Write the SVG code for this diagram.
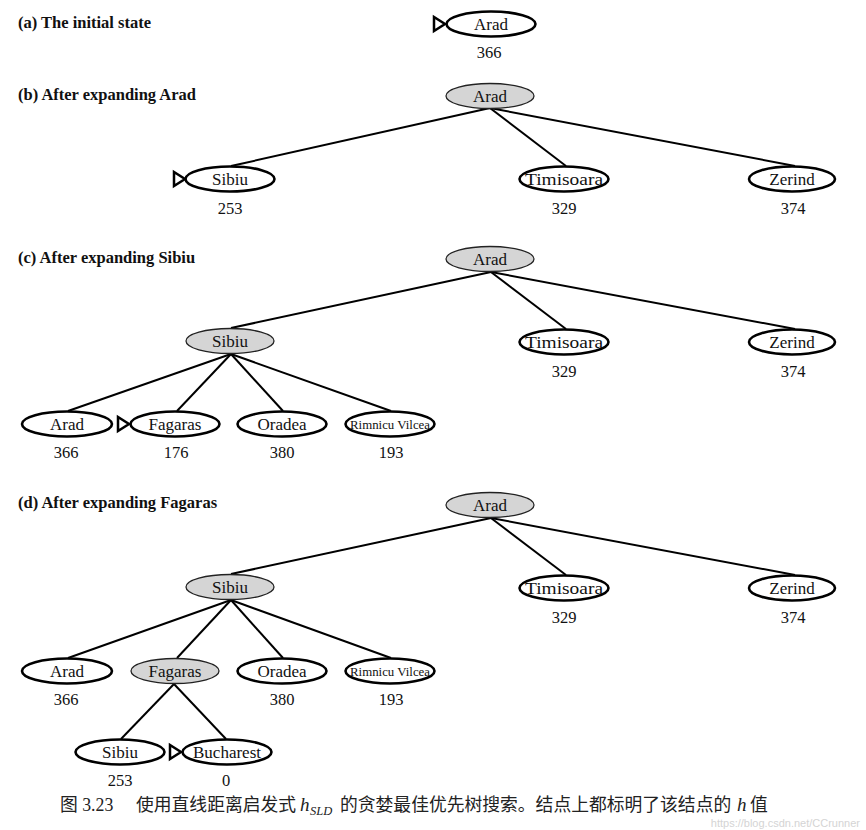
<svg xmlns="http://www.w3.org/2000/svg" width="866" height="830" viewBox="0 0 866 830">
<defs>
<style>
.bg{fill:#ffffff}
.title{font-family:"Liberation Serif","Times New Roman",serif;font-weight:bold;font-size:16.5px;fill:#111}
.n{fill:#ffffff;stroke:#000;stroke-width:2.6}
.g{fill:#d5d5d5;stroke:#222;stroke-width:1.3}
.t{font-family:"Liberation Serif","Times New Roman",serif;font-size:17px;fill:#111;text-anchor:middle}
.ts{font-family:"Liberation Serif","Times New Roman",serif;font-size:13.5px;fill:#111;text-anchor:middle}
.h{font-family:"Liberation Serif","Times New Roman",serif;font-size:16.5px;fill:#111;text-anchor:middle}
.tri{fill:#ffffff;stroke:#000;stroke-width:2.5;stroke-linejoin:miter}
.e{stroke:#000;stroke-width:2;fill:none}
.cap{font-family:"Liberation Serif","Noto Sans CJK SC",serif;font-size:17.8px;fill:#222}
.capi{font-family:"Liberation Serif","Times New Roman",serif;font-style:italic;fill:#222}
.wm{font-family:"Liberation Sans",Arial,sans-serif;font-size:11px;fill:#d4d4d4;text-anchor:end}
</style>
</defs>
<rect class="bg" x="0" y="0" width="866" height="830"/>

<g id="titles">
<text class="title" x="18" y="28">(a) The initial state</text>
<text class="title" x="18" y="100">(b) After expanding Arad</text>
<text class="title" x="18" y="263">(c) After expanding Sibiu</text>
<text class="title" x="18" y="508">(d) After expanding Fagaras</text>
</g>

<g id="connectors">
<line class="e" x1="490" y1="108" x2="231" y2="166"/>
<line class="e" x1="490" y1="108" x2="566" y2="166"/>
<line class="e" x1="490" y1="108" x2="795" y2="166"/>
<line class="e" x1="491" y1="272" x2="231" y2="328"/>
<line class="e" x1="491" y1="272" x2="566" y2="329"/>
<line class="e" x1="491" y1="272" x2="795" y2="329"/>
<line class="e" x1="231" y1="354" x2="68" y2="411"/>
<line class="e" x1="231" y1="354" x2="177" y2="411"/>
<line class="e" x1="231" y1="354" x2="283" y2="411"/>
<line class="e" x1="231" y1="354" x2="391" y2="411"/>
<line class="e" x1="491" y1="518" x2="231" y2="574"/>
<line class="e" x1="491" y1="518" x2="566" y2="575"/>
<line class="e" x1="491" y1="518" x2="795" y2="575"/>
<line class="e" x1="231" y1="600" x2="68" y2="658"/>
<line class="e" x1="231" y1="600" x2="177" y2="658"/>
<line class="e" x1="231" y1="600" x2="283" y2="658"/>
<line class="e" x1="231" y1="600" x2="391" y2="658"/>
<line class="e" x1="174" y1="684" x2="121" y2="739"/>
<line class="e" x1="174" y1="684" x2="226" y2="739"/>
</g>

<g id="a-arad">
<polygon class="tri" points="434,17 434,31 445,24"/>
<ellipse class="n" cx="491" cy="24" rx="44.5" ry="12.5"/>
<text class="t" x="491" y="30">Arad</text>
<text class="h" x="489" y="58">366</text>
</g>

<g id="b-arad">
<ellipse class="g" cx="490" cy="96" rx="44" ry="12.5"/>
<text class="t" x="490" y="102">Arad</text>
</g>
<g id="b-sibiu">
<polygon class="tri" points="174,172 174,186 185,179"/>
<ellipse class="n" cx="230" cy="179" rx="44.5" ry="12.5"/>
<text class="t" x="230" y="185">Sibiu</text>
<text class="h" x="230" y="214">253</text>
</g>
<g id="b-timisoara">
<ellipse class="n" cx="564" cy="179" rx="44.5" ry="12.5"/>
<text class="t" x="564" y="185" textLength="78" lengthAdjust="spacingAndGlyphs">Timisoara</text>
<text class="h" x="564" y="214">329</text>
</g>
<g id="b-zerind">
<ellipse class="n" cx="792" cy="179" rx="43" ry="12.5"/>
<text class="t" x="792" y="185">Zerind</text>
<text class="h" x="793" y="214">374</text>
</g>

<g id="c-arad">
<ellipse class="g" cx="490" cy="259" rx="44" ry="12.5"/>
<text class="t" x="490" y="265">Arad</text>
</g>
<g id="c-sibiu">
<ellipse class="g" cx="230" cy="341" rx="44" ry="12.5"/>
<text class="t" x="230" y="347">Sibiu</text>
</g>
<g id="c-timisoara">
<ellipse class="n" cx="564" cy="342" rx="44.5" ry="12.5"/>
<text class="t" x="564" y="348" textLength="78" lengthAdjust="spacingAndGlyphs">Timisoara</text>
<text class="h" x="564" y="377">329</text>
</g>
<g id="c-zerind">
<ellipse class="n" cx="792" cy="342" rx="43" ry="12.5"/>
<text class="t" x="792" y="348">Zerind</text>
<text class="h" x="793" y="377">374</text>
</g>
<g id="c-arad2">
<ellipse class="n" cx="67" cy="424" rx="45" ry="12.5"/>
<text class="t" x="67" y="430">Arad</text>
<text class="h" x="66" y="458">366</text>
</g>
<g id="c-fagaras">
<polygon class="tri" points="118,417 118,431 129,424"/>
<ellipse class="n" cx="175" cy="424" rx="44.5" ry="12.5"/>
<text class="t" x="175" y="430">Fagaras</text>
<text class="h" x="176" y="458">176</text>
</g>
<g id="c-oradea">
<ellipse class="n" cx="282" cy="424" rx="44.5" ry="12.5"/>
<text class="t" x="282" y="430">Oradea</text>
<text class="h" x="282" y="458">380</text>
</g>
<g id="c-rimnicu">
<ellipse class="n" cx="390" cy="424" rx="44.5" ry="12.5"/>
<text class="ts" x="390" y="429" textLength="80" lengthAdjust="spacingAndGlyphs">Rimnicu Vilcea</text>
<text class="h" x="391" y="458">193</text>
</g>

<g id="d-arad">
<ellipse class="g" cx="490" cy="505" rx="44" ry="12.5"/>
<text class="t" x="490" y="511">Arad</text>
</g>
<g id="d-sibiu">
<ellipse class="g" cx="230" cy="587" rx="44" ry="12.5"/>
<text class="t" x="230" y="593">Sibiu</text>
</g>
<g id="d-timisoara">
<ellipse class="n" cx="564" cy="588" rx="44.5" ry="12.5"/>
<text class="t" x="564" y="594" textLength="78" lengthAdjust="spacingAndGlyphs">Timisoara</text>
<text class="h" x="564" y="623">329</text>
</g>
<g id="d-zerind">
<ellipse class="n" cx="792" cy="588" rx="43" ry="12.5"/>
<text class="t" x="792" y="594">Zerind</text>
<text class="h" x="793" y="623">374</text>
</g>
<g id="d-arad2">
<ellipse class="n" cx="67" cy="671" rx="45" ry="12.5"/>
<text class="t" x="67" y="677">Arad</text>
<text class="h" x="66" y="705">366</text>
</g>
<g id="d-fagaras">
<ellipse class="g" cx="175" cy="671" rx="44" ry="12.5"/>
<text class="t" x="175" y="677">Fagaras</text>
</g>
<g id="d-oradea">
<ellipse class="n" cx="282" cy="671" rx="44.5" ry="12.5"/>
<text class="t" x="282" y="677">Oradea</text>
<text class="h" x="282" y="705">380</text>
</g>
<g id="d-rimnicu">
<ellipse class="n" cx="390" cy="671" rx="44.5" ry="12.5"/>
<text class="ts" x="390" y="676" textLength="80" lengthAdjust="spacingAndGlyphs">Rimnicu Vilcea</text>
<text class="h" x="391" y="705">193</text>
</g>
<g id="d-sibiu2">
<ellipse class="n" cx="120" cy="752" rx="44.5" ry="12.5"/>
<text class="t" x="120" y="758">Sibiu</text>
<text class="h" x="120" y="786">253</text>
</g>
<g id="d-bucharest">
<polygon class="tri" points="170,745 170,759 181,752"/>
<ellipse class="n" cx="227" cy="752" rx="44.5" ry="12.5"/>
<text class="t" x="227" y="758">Bucharest</text>
<text class="h" x="226" y="786">0</text>
</g>

<g id="caption">
<text class="wm" x="860" y="827">https://blog.csdn.net/CCrunner</text>
<text class="cap" x="60" y="811">图 3.23</text>
<text class="cap" x="136" y="811">使用直线距离启发式</text>
<text class="capi" x="300" y="811" font-size="19">h</text>
<text class="capi" x="310" y="815" font-size="12.5">SLD</text>
<text class="cap" x="340" y="811">的贪婪最佳优先树搜索。结点上都标明了该结点的</text>
<text class="capi" x="737" y="811" font-size="19">h</text>
<text class="cap" x="750" y="811">值</text>
</g>
</svg>
